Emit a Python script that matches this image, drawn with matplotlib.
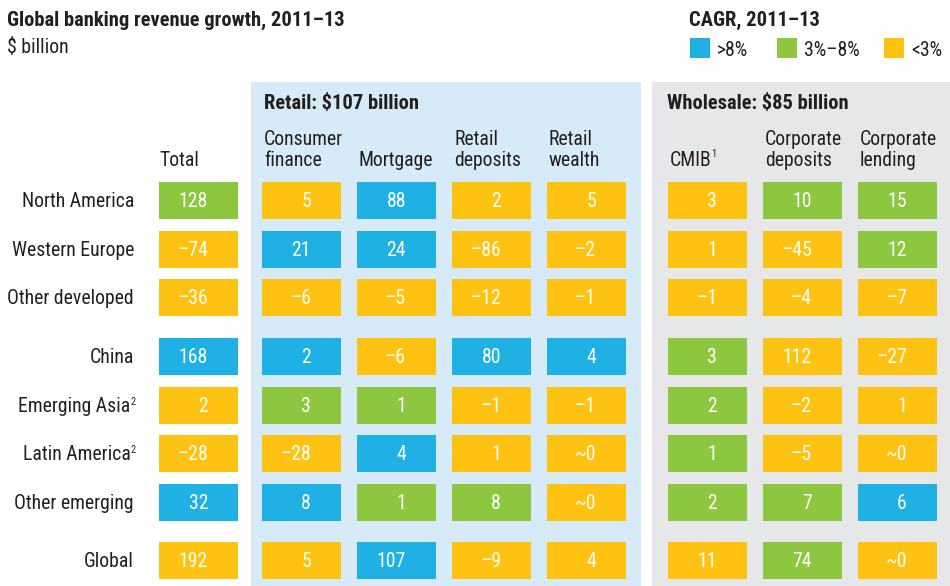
# Global banking revenue growth table, recreated with matplotlib patches/text
import matplotlib
matplotlib.use('Agg')
import matplotlib.pyplot as plt
from matplotlib.patches import Rectangle

# ---- data ----
regions = ['North America', 'Western Europe', 'Other developed', 'China',
           'Emerging Asia', 'Latin America', 'Other emerging', 'Global']
region_notes = ['', '', '', '', '2', '2', '', '']
columns = ['Total', 'Consumer\nfinance', 'Mortgage', 'Retail\ndeposits', 'Retail\nwealth',
           'CMIB', 'Corporate\ndeposits', 'Corporate\nlending']
column_notes = ['', '', '', '', '', '1', '', '']
values = [
    ['128', '5', '88', '2', '5', '3', '10', '15'],
    ['\u201374', '21', '24', '\u201386', '\u20132', '1', '\u201345', '12'],
    ['\u201336', '\u20136', '\u20135', '\u201312', '\u20131', '\u20131', '\u20134', '\u20137'],
    ['168', '2', '\u20136', '80', '4', '3', '112', '\u201327'],
    ['2', '3', '1', '\u20131', '\u20131', '2', '\u20132', '1'],
    ['\u201328', '\u201328', '4', '1', '~0', '1', '\u20135', '~0'],
    ['32', '8', '1', '8', '~0', '2', '7', '6'],
    ['192', '5', '107', '\u20139', '4', '11', '74', '~0'],
]
# CAGR band: B = >8%, G = 3%-8%, Y = <3%
bands = [
    'GYBYYYGG',
    'YBBYYYYG',
    'YYYYYYYY',
    'BBYBBGYY',
    'YGGYYGYY',
    'YYBYYGYY',
    'BBGGYGGB',
    'YYBYYYGY',
]
legend_keys = ['B', 'G', 'Y']
legend_labels = ['>8%', '3%\u20138%', '<3%']

colors = {'B': '#20B1E4', 'G': '#8DC63F', 'Y': '#FEC312'}
retail_bg = '#D6EBF7'
wholesale_bg = '#E6E7E8'
dark = '#231F20'

plt.rcParams['font.family'] = ['Roboto Condensed', 'DejaVu Sans']

# ---- layout (pixel coords) ----
col_left = [159, 262, 357, 452, 547, 668, 763, 858]
row_top = [182, 231, 279, 338, 387, 435, 484, 542]
cw, ch = 79, 37
fs = 14.2
fsb = 14.8
fsup = 7.5

fig = plt.figure(figsize=(9.5, 5.86), dpi=100)
ax = fig.add_axes([0, 0, 1, 1])
ax.set_xlim(0, 950)
ax.set_ylim(586, 0)
ax.axis('off')
renderer = fig.canvas.get_renderer()


def right_edge(t):
    bb = t.get_window_extent(renderer)
    return ax.transData.inverted().transform((bb.x1, bb.y0))[0]


# panels
ax.add_patch(Rectangle((251, 82), 390, 504, color=retail_bg, lw=0, zorder=0))
ax.add_patch(Rectangle((652, 82), 298, 504, color=wholesale_bg, lw=0, zorder=0))

# titles
ax.text(7, 26, 'Global banking revenue growth, 2011\u201313', fontsize=fsb, fontweight='bold',
        color=dark, va='baseline')
ax.text(7, 53, '$ billion', fontsize=fs, color=dark, va='baseline')
ax.text(264, 109, 'Retail: $107 billion', fontsize=fsb, fontweight='bold', color=dark, va='baseline')
ax.text(667, 109, 'Wholesale: $85 billion', fontsize=fsb, fontweight='bold', color=dark, va='baseline')

# legend
ax.text(689, 26, 'CAGR, 2011\u201313', fontsize=fsb, fontweight='bold', color=dark, va='baseline')
leg_x = [690, 777, 884]
for k, lab, lx in zip(legend_keys, legend_labels, leg_x):
    ax.add_patch(Rectangle((lx, 38), 20, 20, color=colors[k], lw=0))
    ax.text(lx + 27, 56, lab, fontsize=fs, color=dark, va='baseline')

# column headers
for j, name in enumerate(columns):
    lines = name.split('\n')
    x = col_left[j] + (0 if j == 0 else 2)
    if len(lines) == 2:
        ax.text(x, 145, lines[0], fontsize=fs, color=dark, va='baseline')
    t = ax.text(x, 166, lines[-1], fontsize=fs, color=dark, va='baseline')
    if column_notes[j]:
        ax.text(right_edge(t) - 0.5, 157, column_notes[j], fontsize=fsup, color=dark,
                va='baseline')

# rows
for i, reg in enumerate(regions):
    base = row_top[i] + 25
    xr = 130.5 if region_notes[i] else 134
    ax.text(xr, base, reg, fontsize=fs, color=dark, ha='right', va='baseline')
    if region_notes[i]:
        ax.text(xr, row_top[i] + 18, region_notes[i], fontsize=fsup, color=dark,
                ha='left', va='baseline')
    for j in range(len(columns)):
        ax.add_patch(Rectangle((col_left[j], row_top[i]), cw, ch,
                               color=colors[bands[i][j]], lw=0, zorder=1))
        ax.text(col_left[j] + 49, base, values[i][j], fontsize=fs, color='white',
                ha='right', va='baseline', zorder=2)

fig.savefig('out.png', dpi=100)
